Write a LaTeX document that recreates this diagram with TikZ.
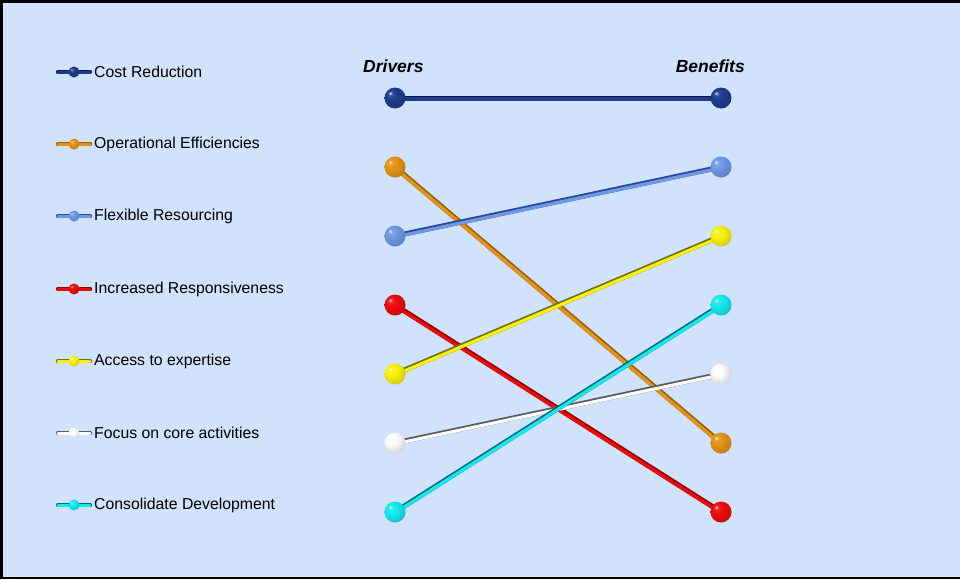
\documentclass[tikz,border=0pt]{standalone}
\usepackage{fontspec}
\setmainfont{Liberation Sans}
\pgfdeclarelayer{bg}
\pgfdeclarelayer{wires}
\pgfsetlayers{bg,wires,main}

% palette: fill colour and darker edge colour per category
\definecolor{paper}{RGB}{208,226,252}
\definecolor{navyC}{RGB}{30,60,140}   \definecolor{navyD}{RGB}{10,25,80}
\definecolor{orangeC}{RGB}{228,148,20}\definecolor{orangeD}{RGB}{150,90,10}
\definecolor{lblueC}{RGB}{112,152,228}\definecolor{lblueD}{RGB}{40,70,150}
\definecolor{redC}{RGB}{238,10,10}    \definecolor{redD}{RGB}{140,0,0}
\definecolor{yellowC}{RGB}{248,242,10}\definecolor{yellowD}{RGB}{110,110,30}
\definecolor{whiteC}{RGB}{252,252,252}\definecolor{whiteD}{RGB}{90,90,90}
\definecolor{cyanC}{RGB}{20,234,238}  \definecolor{cyanD}{RGB}{0,110,120}

% glossy sphere: small highlight upper left, darker rim
\colorlet{ballc}{red}
\pgfdeclareradialshading[ballc]{glossy}{\pgfqpoint{-12bp}{12bp}}{%
  color(0bp)=(ballc!15!white); color(5bp)=(ballc!90!white);
  color(13bp)=(ballc); color(27bp)=(ballc!88!black);
  color(40bp)=(ballc!65!black); color(50bp)=(ballc!50!black)}

\tikzset{
  ballnode/.style={circle, inner sep=0pt, minimum size=21pt,
    /utils/exec={\colorlet{ballc}{#1}}, shading=glossy},
  miniball/.style={circle, inner sep=0pt, minimum width=9pt, minimum height=11pt,
    /utils/exec={\colorlet{ballc}{#1}}, shading=glossy},
  wireedge/.style={draw=#1, line width=5pt},
  wirecore/.style={draw=#1, line width=3.2pt, transform canvas={yshift=-0.9pt}},
  keyedge/.style={draw=#1, line width=4.5pt, line cap=round},
  keycore/.style={draw=#1, line width=3pt, line cap=round, transform canvas={yshift=-0.5pt}},
  keytext/.style={anchor=west, inner sep=0pt, font=\fontsize{15.8}{18}\selectfont},
  heading/.style={inner sep=0pt, font=\fontsize{17.5}{20}\selectfont\bfseries\itshape}
}

\begin{document}
\begin{tikzpicture}[x=1pt, y=-1pt]
\useasboundingbox (0,0) rectangle (960,579);

\begin{pgfonlayer}{bg}
  \fill[paper] (0,0) rectangle (960,579);
  % frame: top, left and bottom rules
  \fill[black] (0,0) rectangle (960,3);
  \fill[black] (0,0) rectangle (2.5,579);
  \fill[black] (0,576.5) rectangle (960,579);
\end{pgfonlayer}

% column headings
\node[heading, anchor=west] (hd) at (363,66) {Drivers};
\node[heading, anchor=east] (hb) at (745,66) {Benefits};

% balls: drivers (left column) and benefits (right column)
\foreach \n/\y/\c in {1/98/navyC, 2/167/orangeC, 3/236/lblueC, 4/305/redC,
                      5/374/yellowC, 6/443/whiteC, 7/512/cyanC}
  \node[ballnode=\c] (d\n) at (395,\y) {};
\foreach \n/\y/\c in {1/98/navyC, 2/167/lblueC, 3/236/yellowC, 4/305/cyanC,
                      5/374/whiteC, 6/443/orangeC, 7/512/redC}
  \node[ballnode=\c] (b\n) at (721,\y) {};

% links from each driver to its benefit
\begin{pgfonlayer}{wires}
\foreach \a/\b/\c in {1/1/navy, 2/6/orange, 3/2/lblue, 4/7/red,
                      5/3/yellow, 6/5/white, 7/4/cyan} {
  \draw[wireedge=\c D] (d\a.center) -- (b\b.center);
  \draw[wirecore=\c C] (d\a.center) -- (b\b.center);
}
\end{pgfonlayer}

% legend
\foreach \n/\y/\c/\t in {1/72/navy/Cost Reduction,
                         2/144/orange/Operational Efficiencies,
                         3/216/lblue/Flexible Resourcing,
                         4/289/red/Increased Responsiveness,
                         5/361/yellow/Access to expertise,
                         6/433/white/Focus on core activities,
                         7/505/cyan/Consolidate Development} {
  \coordinate (ka\n) at (58,\y);
  \coordinate (kb\n) at (90,\y);
  \draw[keyedge=\c D] (ka\n) -- (kb\n);
  \draw[keycore=\c C] (ka\n) -- (kb\n);
  \node[miniball=\c C] (km\n) at (74,\y) {};
  \node[keytext] (kt\n) at (94,\y) {\t};
}
\end{tikzpicture}
\end{document}
